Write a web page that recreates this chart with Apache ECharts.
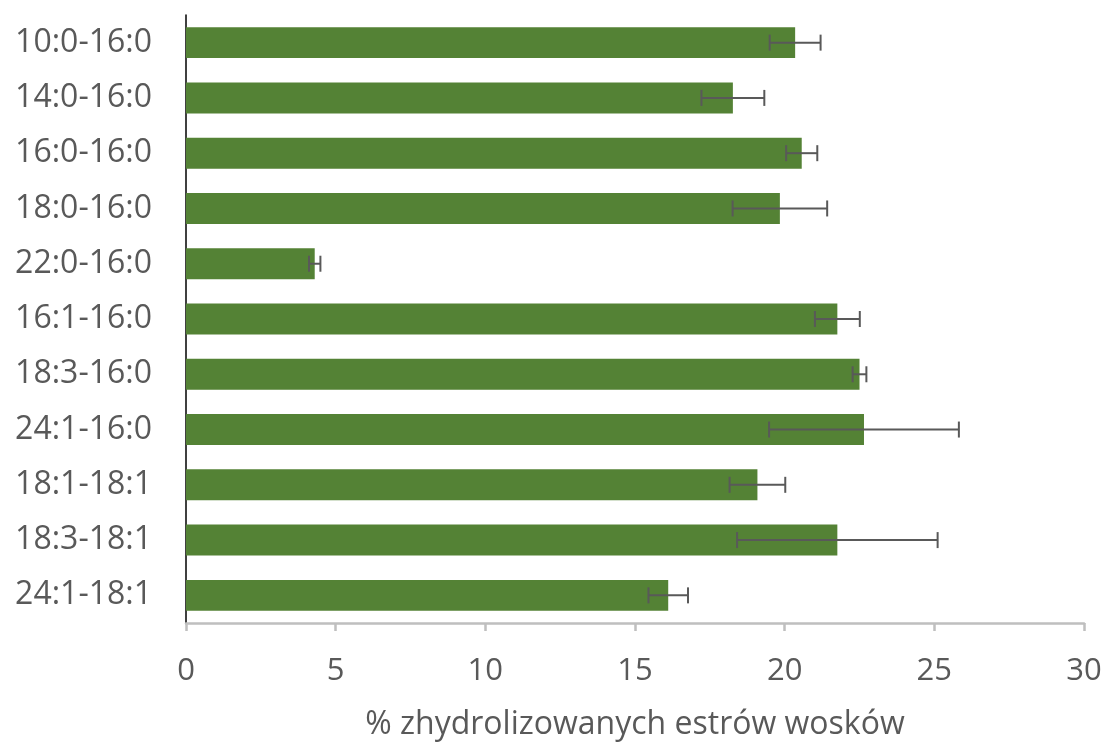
<!DOCTYPE html>
<html>
<head>
<meta charset="utf-8">
<script src="https://cdn.jsdelivr.net/npm/echarts@6/dist/echarts.min.js"></script>
<style>
  html, body { margin: 0; padding: 0; background: #fff; }
  #chart { width: 1105px; height: 742px; }
</style>
</head>
<body>
<div id="chart"></div>
<script>
// Wax ester pairs (acid-alcohol) and the share hydrolysed, with standard deviations
const categories = ['10:0-16:0', '14:0-16:0', '16:0-16:0', '18:0-16:0', '22:0-16:0',
  '16:1-16:0', '18:3-16:0', '24:1-16:0', '18:1-18:1', '18:3-18:1', '24:1-18:1'];
const values = [20.35, 18.27, 20.57, 19.84, 4.30, 21.76, 22.50, 22.65, 19.09, 21.76, 16.11];
const errors = [0.85, 1.05, 0.52, 1.58, 0.19, 0.75, 0.23, 3.17, 0.93, 3.35, 0.66];
const xTicks = { min: 0, max: 30, step: 5 };
const axisTitle = '% zhydrolizowanych estrów wosków';

const FONT = "'Open Sans', 'Liberation Sans', sans-serif";
const TEXT = '#595959';

const errorData = categories.map((c, i) => [i, values[i] - errors[i], values[i] + errors[i]]);

const chart = echarts.init(document.getElementById('chart'), null, { renderer: 'canvas' });
chart.setOption({
  animation: false,
  backgroundColor: '#ffffff',
  grid: { left: 186, right: 21, top: 15, bottom: 119, containLabel: false, outerBoundsMode: 'none' },
  xAxis: {
    type: 'value',
    min: xTicks.min, max: xTicks.max, interval: xTicks.step,
    name: axisTitle,
    nameLocation: 'middle',
    nameGap: 86,
    nameTextStyle: { fontFamily: FONT, fontSize: 32, color: TEXT },
    axisLine: { show: true, lineStyle: { color: '#bfbfbf', width: 2.5 } },
    axisTick: { show: true, length: 8, lineStyle: { color: '#bfbfbf', width: 2.5 } },
    axisLabel: { fontFamily: FONT, fontSize: 31, color: TEXT, margin: 33 },
    splitLine: { show: false }
  },
  yAxis: {
    type: 'category',
    data: categories,
    inverse: true,
    axisLine: { show: true, onZero: false, lineStyle: { color: '#000000', width: 1.5 } },
    axisTick: { show: false },
    axisLabel: { fontFamily: FONT, fontSize: 32, color: TEXT, margin: 34 },
    splitLine: { show: false }
  },
  series: [
    {
      type: 'bar',
      data: values,
      barCategoryGap: '44%',
      itemStyle: { color: '#548235' },
      z: 2
    },
    {
      type: 'custom',
      data: errorData,
      encode: { x: [1, 2], y: 0 },
      z: 3,
      renderItem: function (params, api) {
        const idx = api.value(0);
        const lo = api.coord([api.value(1), idx]);
        const hi = api.coord([api.value(2), idx]);
        const cap = 8;
        const style = { stroke: '#595959', lineWidth: 2 };
        return {
          type: 'group',
          children: [
            { type: 'line', shape: { x1: lo[0], y1: lo[1], x2: hi[0], y2: hi[1] }, style: style },
            { type: 'line', shape: { x1: lo[0], y1: lo[1] - cap, x2: lo[0], y2: lo[1] + cap }, style: style },
            { type: 'line', shape: { x1: hi[0], y1: hi[1] - cap, x2: hi[0], y2: hi[1] + cap }, style: style }
          ]
        };
      }
    }
  ]
});
</script>
</body>
</html>
